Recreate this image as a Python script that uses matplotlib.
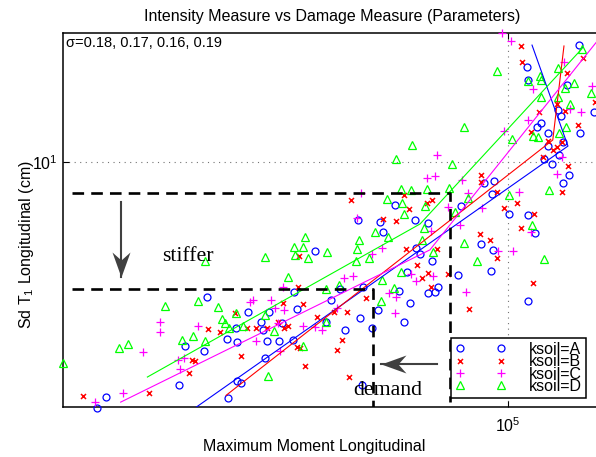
import numpy as np
import matplotlib
matplotlib.use('Agg')
import matplotlib.pyplot as plt
from matplotlib.lines import Line2D
from matplotlib.path import Path
from matplotlib.ticker import NullLocator

plt.rcParams['font.family'] = ['Liberation Sans', 'DejaVu Sans']
plt.rcParams['mathtext.fontset'] = 'custom'
plt.rcParams['mathtext.rm'] = 'Liberation Sans'
plt.rcParams['mathtext.it'] = 'Liberation Sans:italic'
plt.rcParams['mathtext.bf'] = 'Liberation Sans:bold'

# ---------------- data (moment in thousands, Sd in cm) ----------------
moment_A = [15.1, 15.7, 22.0, 22.6, 24.7, 25.0, 27.4, 28.7, 28.6, 27.5,
            28.7, 29.2, 30.2, 32.1, 32.4, 32.9, 34.8, 33.2, 35.3, 37.1,
            37.8, 32.6, 37.3, 41.1, 44.3, 43.3, 46.1, 47.2, 50.1, 50.6,
            51.1, 51.3, 53.5, 55.0, 55.5, 56.2, 59.4, 60.5, 62.0, 62.8,
            63.7, 65.2, 65.5, 66.7, 69.2, 69.2, 70.4, 71.4, 72.4, 79.5,
            80.6, 88.3, 89.5, 92.4, 92.8, 93.2, 93.6, 100.5, 109.6, 109.6,
            113.2, 109.1, 109.6, 114.3, 116.4, 118.0, 120.2, 120.2, 122.5, 125.8,
            126.4, 127.6, 128.8, 128.8, 131.2, 132.4, 138.6, 139.3, 148.7]
sd_A = [2.43, 2.58, 2.77, 3.47, 3.37, 4.60, 3.61, 3.55, 3.85, 2.57,
        2.83, 2.80, 4.22, 3.98, 3.80, 3.57, 3.57, 4.22, 3.96, 3.59,
        4.29, 3.24, 4.74, 6.00, 4.52, 3.98, 4.82, 3.80, 7.16, 4.08,
        2.77, 4.87, 3.85, 4.27, 7.08, 6.68, 7.81, 4.76, 3.98, 5.31,
        4.45, 7.16, 6.10, 5.88, 7.04, 4.71, 5.66, 4.74, 4.88, 5.22,
        7.77, 6.24, 8.86, 5.34, 8.32, 6.03, 8.97, 7.41, 7.37, 4.49,
        6.64, 17.3, 16.0, 12.2, 12.5, 10.2, 11.8, 10.96, 9.9, 13.5,
        10.4, 13.0, 11.2, 8.86, 15.6, 9.28, 19.6, 11.8, 13.3]

moment_B = [14.1, 19.1, 23.0, 23.3, 23.7, 25.1, 26.6, 28.4, 29.2, 30.1,
            31.3, 32.9, 34.7, 36.3, 35.5, 37.8, 35.6, 38.2, 38.0, 38.9,
            41.5, 44.9, 47.6, 46.6, 45.5, 38.4, 39.3, 48.1, 52.0, 56.2,
            59.8, 62.5, 65.8, 48.5, 62.0, 63.4, 69.2, 67.3, 70.1, 75.9,
            72.0, 83.5, 87.9, 92.0, 95.0, 106.2, 112.2, 70.4, 68.8, 88.3,
            88.3, 95.0, 98.2, 104.2, 112.7, 128.2, 131.8, 117.4, 122.9, 125.3,
            128.2, 120.2, 111.2, 138.0, 115.3, 125.3, 130.0, 131.2, 141.3, 106.2,
            106.7, 149.4]
sd_B = [2.60, 2.64, 2.96, 3.20, 3.18, 3.82, 3.75, 4.20, 3.27, 3.85,
        3.85, 3.85, 3.98, 3.90, 4.45, 3.45, 3.85, 5.82, 4.87, 4.42,
        4.10, 4.22, 4.22, 3.59, 3.39, 3.43, 3.09, 2.90, 4.57, 7.20,
        7.12, 6.06, 5.52, 8.04, 8.29, 7.63, 5.28, 5.13, 4.87, 5.25,
        6.06, 4.30, 6.60, 6.38, 5.76, 6.84, 4.99, 8.04, 7.89, 9.28,
        8.90, 8.43, 7.67, 7.89, 7.41, 8.43, 9.77, 10.3, 10.7, 10.9,
        11.2, 11.3, 11.9, 12.4, 13.3, 14.0, 13.4, 16.7, 18.2, 19.5,
        17.8, 14.1]

moment_C = [14.9, 17.0, 18.6, 20.1, 20.1, 21.9, 22.5, 22.1, 24.0, 30.5,
            30.9, 33.6, 31.3, 34.2, 35.6, 35.5, 34.7, 35.0, 38.9, 41.1,
            42.5, 45.5, 47.0, 49.0, 49.9, 50.8, 53.5, 56.0, 57.8, 59.8,
            59.4, 64.0, 65.5, 70.8, 70.1, 80.2, 82.4, 95.6, 102.3, 111.2,
            68.8, 71.4, 72.0, 75.9, 80.9, 83.1, 88.7, 105.2, 125.3, 128.2,
            98.2, 109.6, 112.2, 129.4, 133.0, 139.9, 147.3, 97.3, 101.4]
sd_C = [2.51, 2.64, 3.35, 3.98, 3.75, 3.20, 3.24, 3.04, 3.90, 4.47,
        4.52, 4.52, 3.57, 4.32, 4.27, 4.87, 3.95, 3.37, 3.89, 3.87,
        3.80, 4.32, 5.13, 5.19, 7.24, 8.36, 5.89, 6.10, 4.71, 4.60,
        4.20, 5.25, 5.04, 5.19, 6.72, 6.96, 4.74, 6.00, 6.00, 6.68,
        9.13, 9.25, 10.4, 7.72, 9.02, 8.36, 7.67, 8.43, 9.34, 10.3,
        11.95, 12.7, 15.2, 17.8, 13.6, 13.3, 15.5, 21.0, 20.1]

moment_D = [12.9, 16.7, 17.4, 20.6, 22.3, 23.4, 24.0, 24.8, 24.8, 26.3,
            26.8, 27.2, 27.7, 28.6, 29.5, 32.6, 33.1, 34.0, 32.6, 36.3,
            37.3, 37.5, 38.9, 38.9, 39.3, 39.8, 43.3, 43.3, 43.5, 45.9,
            49.6, 49.9, 50.3, 52.8, 54.2, 55.8, 56.0, 57.5, 59.1, 61.1,
            62.0, 57.3, 61.4, 61.1, 64.0, 59.8, 64.3, 67.9, 67.3, 70.8,
            81.7, 86.7, 118.0, 111.7, 68.2, 68.8, 76.2, 77.3, 78.4, 83.1,
            100.5, 120.8, 81.7, 101.9, 112.2, 114.8, 126.4, 130.6, 116.4, 125.8,
            133.0, 130.0, 135.5, 109.6, 116.4, 115.8, 125.8, 95.0, 140.6, 146.6]
sd_D = [3.14, 3.43, 3.51, 4.37, 3.59, 3.67, 4.49, 3.57, 5.66, 4.35,
        4.05, 3.95, 3.85, 4.20, 3.90, 4.15, 2.92, 3.78, 5.79, 5.16,
        6.13, 5.85, 6.13, 3.47, 6.49, 5.76, 4.82, 3.98, 5.95, 4.93,
        5.66, 6.06, 6.38, 5.76, 6.68, 4.49, 5.07, 6.49, 4.84, 5.31,
        7.41, 8.09, 7.89, 8.56, 8.51, 10.2, 11.0, 6.84, 6.38, 5.95,
        6.28, 5.66, 5.72, 6.96, 7.77, 8.56, 8.60, 9.90, 7.50, 8.13,
        8.27, 8.51, 12.2, 11.4, 11.6, 11.55, 11.8, 12.2, 14.5, 14.5,
        14.0, 15.3, 15.8, 15.9, 16.0, 16.4, 17.2, 16.9, 19.2, 14.9]

# fitted curves
fit_A_x, fit_A_y = [23.7, 131.8, 111.7], [2.43, 10.96, 19.6]
fit_B_x, fit_B_y = [27.3, 122.9, 129.4], [2.61, 11.35, 19.5]
fit_C_x, fit_C_y = [16.8, 69.8, 151.5], [2.51, 6.03, 20.2]
fit_D_x, fit_D_y = [19.0, 66.7, 140.6], [2.90, 7.00, 19.2]

labels = ['ksoil=A', 'ksoil=B', 'ksoil=C', 'ksoil=D']
sigmas = [0.18, 0.17, 0.16, 0.19]

# demand / capacity guide lines
guide_x_start = 13.4
upper_level, upper_x, upper_bottom = 8.37, 76.6, 2.51
lower_level, lower_x, lower_bottom = 4.82, 53.75, 2.44
stiff_arrow_x, stiff_arrow_y = 16.8, (7.95, 5.16)
demand_arrow_y, demand_arrow_x = 3.13, (72.0, 55.8)

K = 1e3
W, H = 596, 457
fig = plt.figure(figsize=(W / 100, H / 100), dpi=100)
ax = fig.add_axes([63 / W, (H - 407) / H, 537 / W, 374 / H])
ax.set_xscale('log')
ax.set_yscale('log')
ax.set_xlim(10 ** 4.11, 10 ** 5.184)
ax.set_ylim(10 ** 0.3875, 10 ** 1.3225)

styles = [
    dict(marker='o', mfc='none', mec=(0, 0, 1), ms=5.0, mew=0.9),
    dict(marker='x', mfc='none', mec=(1, 0, 0), ms=3.6, mew=1.1),
    dict(marker='+', mfc='none', mec=(1, 0, 1), ms=5.8, mew=0.9),
    dict(marker='^', mfc='none', mec=(0, 1, 0), ms=5.5, mew=0.9),
]
cols = [(0, 0, 1), (1, 0, 0), (1, 0, 1), (0, 1, 0)]
xs = [moment_A, moment_B, moment_C, moment_D]
ys = [sd_A, sd_B, sd_C, sd_D]
fits = [(fit_A_x, fit_A_y), (fit_B_x, fit_B_y), (fit_C_x, fit_C_y), (fit_D_x, fit_D_y)]

for x, y, st in zip(xs, ys, styles):
    ax.plot(np.array(x) * K, y, linestyle='none', clip_on=False, zorder=3, **st)
for (fx, fy), c in zip(fits, cols):
    ax.plot(np.array(fx) * K, fy, color=c, lw=0.8, zorder=4)

dash = (0, (4.4, 2.7))
ax.plot(np.array([guide_x_start, upper_x, upper_x]) * K, [upper_level, upper_level, upper_bottom],
        color='k', lw=1.9, ls=dash, zorder=5)
ax.plot(np.array([guide_x_start, lower_x, lower_x]) * K, [lower_level, lower_level, lower_bottom],
        color='k', lw=1.9, ls=dash, zorder=5)


# concave ("stealth") arrowheads as custom markers, tip at marker origin
def head(angle_deg):
    base = np.array([[0, 0], [-0.36, -1.0], [0, -0.68], [0.36, -1.0], [0, 0]])
    a = np.deg2rad(angle_deg)
    R = np.array([[np.cos(a), -np.sin(a)], [np.sin(a), np.cos(a)]])
    v = base @ R.T
    return Path(v, [Path.MOVETO, Path.LINETO, Path.LINETO, Path.LINETO, Path.CLOSEPOLY])


arrow_col = '#404040'
ax.plot([stiff_arrow_x * K] * 2, stiff_arrow_y, color=arrow_col, lw=1.5, zorder=6)
ax.plot([stiff_arrow_x * K], [stiff_arrow_y[1]], marker=head(180), ms=36,
        color=arrow_col, mec='none', zorder=6)
ax.plot(np.array(demand_arrow_x) * K, [demand_arrow_y] * 2, color=arrow_col, lw=1.5, zorder=6)
ax.plot([demand_arrow_x[1] * K], [demand_arrow_y], marker=head(90), ms=36,
        color=arrow_col, mec='none', zorder=6)

# axes styling
ax.xaxis.set_minor_locator(NullLocator())
ax.yaxis.set_minor_locator(NullLocator())
ax.set_xticks([1e5])
ax.set_yticks([10])
ax.tick_params(direction='in', length=4, width=0.8, top=True, right=False,
               labelsize=11.5)
ax.tick_params(axis='x', pad=7)
ax.tick_params(axis='y', pad=4)
ax.grid(True, which='major', color='0.45', linestyle=(0, (1, 4)), linewidth=0.8)
for s in ['left', 'top', 'bottom']:
    ax.spines[s].set_linewidth(1.1)
ax.spines['right'].set_visible(False)

# texts
fig.text(332 / W, 1 - 21 / H, 'Intensity Measure vs Damage Measure (Parameters)',
         ha='center', va='baseline', fontsize=11.5)
fig.text(314.5 / W, 1 - 451 / H, 'Maximum Moment Longitudinal', ha='center',
         va='baseline', fontsize=11.5)
fig.text(27 / W, 1 - 245 / H, 'Sd T$_1$ Longitudinal (cm)', ha='center', va='center',
         rotation=90, fontsize=11.5)
fig.text(66 / W, 1 - 47 / H, '\u03c3=' + ', '.join(f'{s:.2f}' for s in sigmas),
         ha='left', va='baseline', fontsize=10.5)
fig.text(187.5 / W, 1 - 261 / H, 'stiffer', ha='center', va='baseline',
         fontsize=15.7, family='Liberation Serif')
fig.text(388 / W, 1 - 395 / H, 'demand', ha='center', va='baseline',
         fontsize=15.7, family='Liberation Serif', zorder=10)

handles = [Line2D([], [], linestyle='none', **st) for st in styles]
leg = ax.legend(handles, labels, numpoints=2, loc='lower right',
                bbox_to_anchor=(586 / W, 1 - 398 / H), bbox_transform=fig.transFigure,
                borderaxespad=0, fontsize=11.5, handlelength=3.2, handletextpad=1.45,
                labelspacing=-0.16, borderpad=0.25, fancybox=False, framealpha=1,
                edgecolor='k')
leg.get_frame().set_linewidth(1.1)
leg.set_zorder(20)

fig.savefig('out.png', dpi=100)
